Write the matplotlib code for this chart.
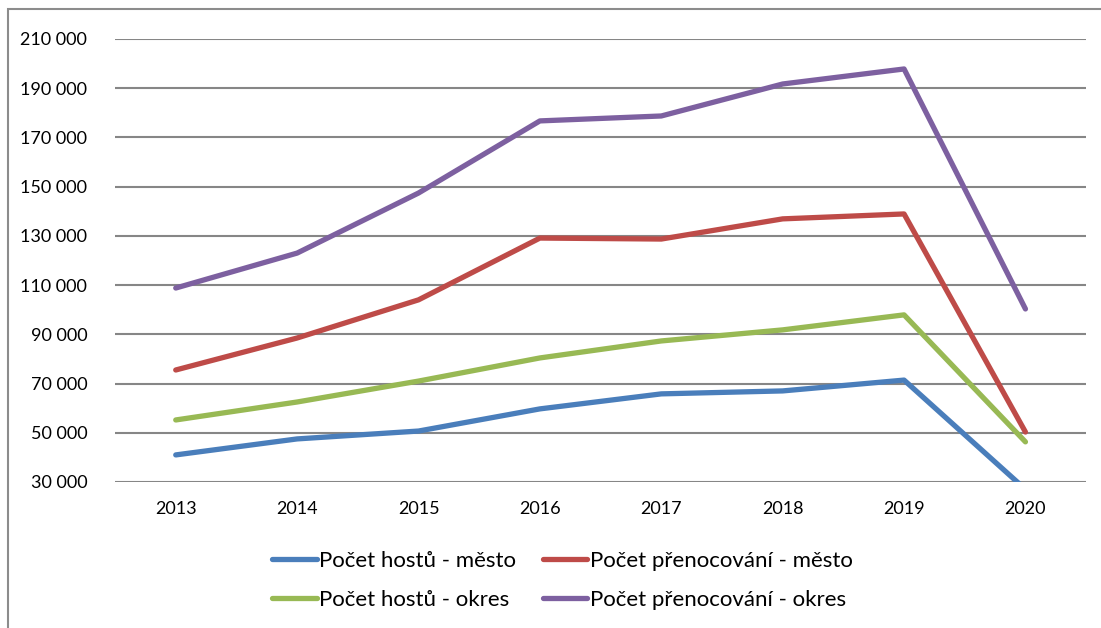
import matplotlib.pyplot as plt
from matplotlib.ticker import FuncFormatter
from matplotlib.patches import Rectangle

plt.rcParams['font.family'] = ['Lato', 'DejaVu Sans']

# Data
roky = ['2013', '2014', '2015', '2016', '2017', '2018', '2019', '2020']
hoste_mesto = [41000, 47500, 50700, 59700, 65800, 67000, 71400, 27000]
prenoc_mesto = [75500, 88500, 104000, 129100, 128700, 136900, 138900, 50300]
hoste_okres = [55200, 62500, 71000, 80400, 87300, 91800, 97900, 46300]
prenoc_okres = [108800, 123000, 147400, 176700, 178700, 191700, 197800, 100300]

serie = [
    ('Počet hostů - město', hoste_mesto, '#4A7EBB'),
    ('Počet přenocování - město', prenoc_mesto, '#BE4B48'),
    ('Počet hostů - okres', hoste_okres, '#98B954'),
    ('Počet přenocování - okres', prenoc_okres, '#7D60A0'),
]

fig = plt.figure(figsize=(11.01, 6.28), dpi=100)
ax = fig.add_axes([0.1045, 0.2325, 0.882, 0.7055])

# outer chart frame (runs off the image at right/bottom)
fig.patches.append(Rectangle((8 / 1101, -0.1), 1.2, 1 - 9 / 628 + 0.1,
                             transform=fig.transFigure, fill=False,
                             edgecolor='#8c8c8c', linewidth=1.5))

x = range(len(roky))
lines = {}
for nazev, hodnoty, barva in serie:
    ln, = ax.plot(x, hodnoty, color=barva, linewidth=3.8,
                  solid_capstyle='round', solid_joinstyle='round', label=nazev)
    lines[nazev] = ln

ax.set_xlim(-0.5, len(roky) - 0.5)
ax.set_ylim(30000, 210000)
ax.set_yticks(range(30000, 210001, 20000))
ax.yaxis.set_major_formatter(FuncFormatter(lambda v, p: f"{int(v):,}".replace(',', ' ')))
ax.set_xticks(list(x))
ax.set_xticklabels(roky)
ax.tick_params(axis='both', length=0, labelsize=13, colors='black')
ax.tick_params(axis='y', pad=20)
ax.tick_params(axis='x', pad=14)
ax.grid(axis='y', color='#868686', linewidth=1.5)
ax.set_axisbelow(True)
for s in ax.spines.values():
    s.set_visible(False)

# legenda se plni po sloupcich
poradi = ['Počet hostů - město', 'Počet hostů - okres',
          'Počet přenocování - město', 'Počet přenocování - okres']
fig.legend([lines[n] for n in poradi], poradi, ncol=2, frameon=False,
           loc='center', bbox_to_anchor=(0.511, 0.076), fontsize=16,
           handlelength=2.0, handletextpad=0.12, columnspacing=1.2,
           labelspacing=0.85)

plt.savefig('out.png', dpi=100)
